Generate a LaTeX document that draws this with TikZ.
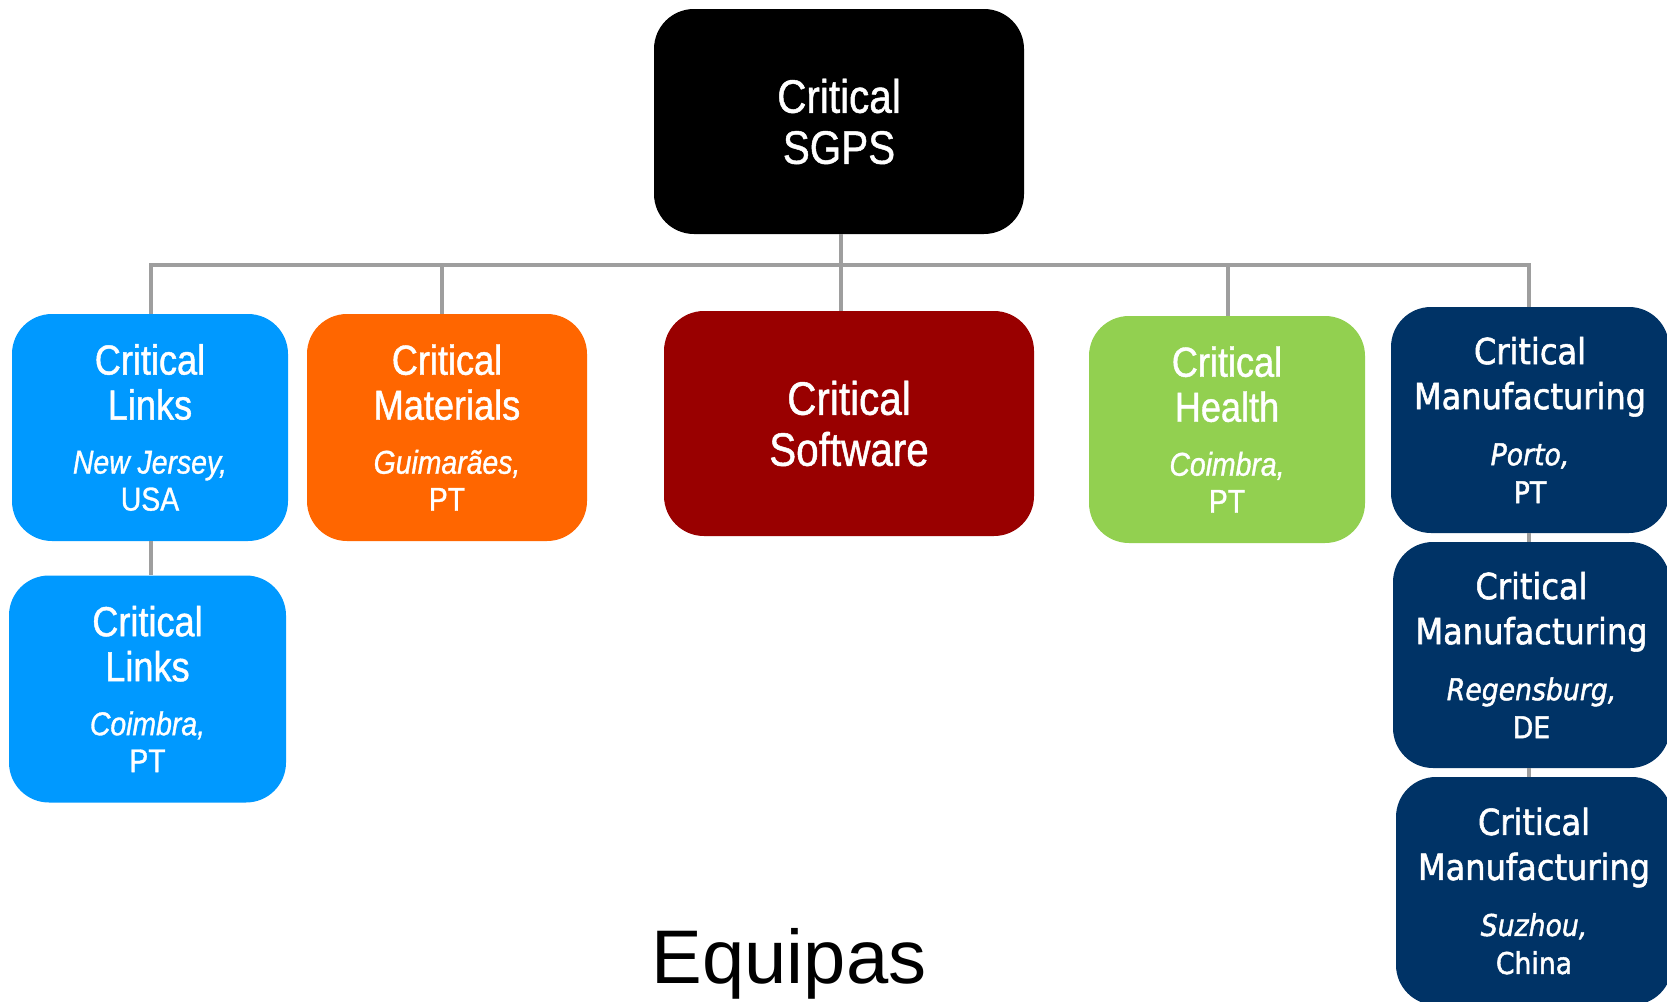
\documentclass[tikz,border=0pt]{standalone}
\usepackage{fontspec}
\setmainfont{Liberation Sans}
\newfontfamily\gothic[FakeStretch=0.86,FakeBold=1]{Liberation Sans}
\newfontfamily\tahoma[FakeStretch=0.89,FakeBold=1.5]{DejaVu Sans}
\newfontfamily\eqfont{Liberation Sans}
\definecolor{linkblue}{RGB}{0,153,255}
\definecolor{matorange}{RGB}{255,102,0}
\definecolor{swred}{RGB}{153,0,0}
\definecolor{hgreen}{RGB}{146,208,80}
\definecolor{mfgnavy}{RGB}{0,51,102}
\definecolor{conngray}{RGB}{158,158,158}
\newcommand\locit[1]{{\fontsize{33}{37}\selectfont\itshape #1}}
\newcommand\locup[1]{{\fontsize{33}{37}\selectfont #1}}
\newcommand\mlocit[1]{{\fontsize{30}{36}\selectfont\itshape #1}}
\newcommand\mlocup[1]{{\fontsize{30}{36}\selectfont #1}}
\tikzset{
  org/.style={rounded corners=40pt, inner sep=0pt, text=white, align=center, draw=none},
  small/.style={org, minimum width=277pt, minimum height=227pt, font=\gothic\fontsize{42}{45}\selectfont},
  big/.style={org, minimum width=370pt, minimum height=225pt, font=\gothic\fontsize{47}{51}\selectfont},
  mfg/.style={org, fill=mfgnavy, minimum width=278pt, minimum height=226pt, font=\tahoma\fontsize{36}{45}\selectfont},
  conn/.style={draw=conngray, line width=4.5pt},
}
\begin{document}
\begin{tikzpicture}[x=1pt,y=-1pt]
\clip (0,0) rectangle (1667,1001);
\fill[white] (0,0) rectangle (1667,1001);
% nodes
\node[big, fill=black] (sgps) at (839,121.5) {Critical\\SGPS};
\node[small, fill=linkblue, minimum width=276pt] (linksNJ) at (150,427.5)
  {Critical\\Links\\[9pt]\locit{New Jersey,}\\[-8pt]\locup{USA}};
\node[small, fill=matorange, minimum width=280pt] (materials) at (447,427.5)
  {Critical\\Materials\\[9pt]\locit{Guimarães,}\\[-8pt]\locup{PT}};
\node[big, fill=swred] (software) at (849,423.5) {Critical\\Software};
\node[small, fill=hgreen, minimum width=276pt] (health) at (1227,429.5)
  {Critical\\Health\\[9pt]\locit{Coimbra,}\\[-8pt]\locup{PT}};
\node[small, fill=linkblue] (linksCo) at (147.5,689)
  {Critical\\Links\\[9pt]\locit{Coimbra,}\\[-8pt]\locup{PT}};
\node[mfg] (mfgP) at (1530,420)
  {Critical\\Manufacturing\\[11pt]\mlocit{Porto,}\\[-7pt]\mlocup{PT}};
\node[mfg, minimum width=277pt] (mfgR) at (1531.5,655)
  {Critical\\Manufacturing\\[11pt]\mlocit{Regensburg,}\\[-7pt]\mlocup{DE}};
\node[mfg, minimum width=276pt, minimum height=228pt] (mfgS) at (1534,891)
  {Critical\\Manufacturing\\[11pt]\mlocit{Suzhou,}\\[-7pt]\mlocup{China}};
\node[anchor=base, font=\eqfont\fontsize{76}{80}\selectfont] (equipas) at (789,983) {Equipas};
% connectors
\coordinate (bus) at (841,265);
\coordinate (njx) at (151,0);
\coordinate (matx) at (442,0);
\coordinate (hx) at (1228,0);
\coordinate (mx) at (1529,0);
\draw[conn] (sgps.south -| bus) -- (software.north -| bus);
\draw[conn] (njx |- linksNJ.north) -- (njx |- bus) -- (mx |- bus) -- (mx |- mfgP.north);
\draw[conn] (matx |- materials.north) -- (matx |- bus);
\draw[conn] (hx |- health.north) -- (hx |- bus);
\draw[conn] (njx |- linksNJ.south) -- (njx |- linksCo.north);
\draw[conn] (mx |- mfgP.south) -- (mx |- mfgR.north);
\draw[conn] (mx |- mfgR.south) -- (mx |- mfgS.north);
\end{tikzpicture}
\end{document}
